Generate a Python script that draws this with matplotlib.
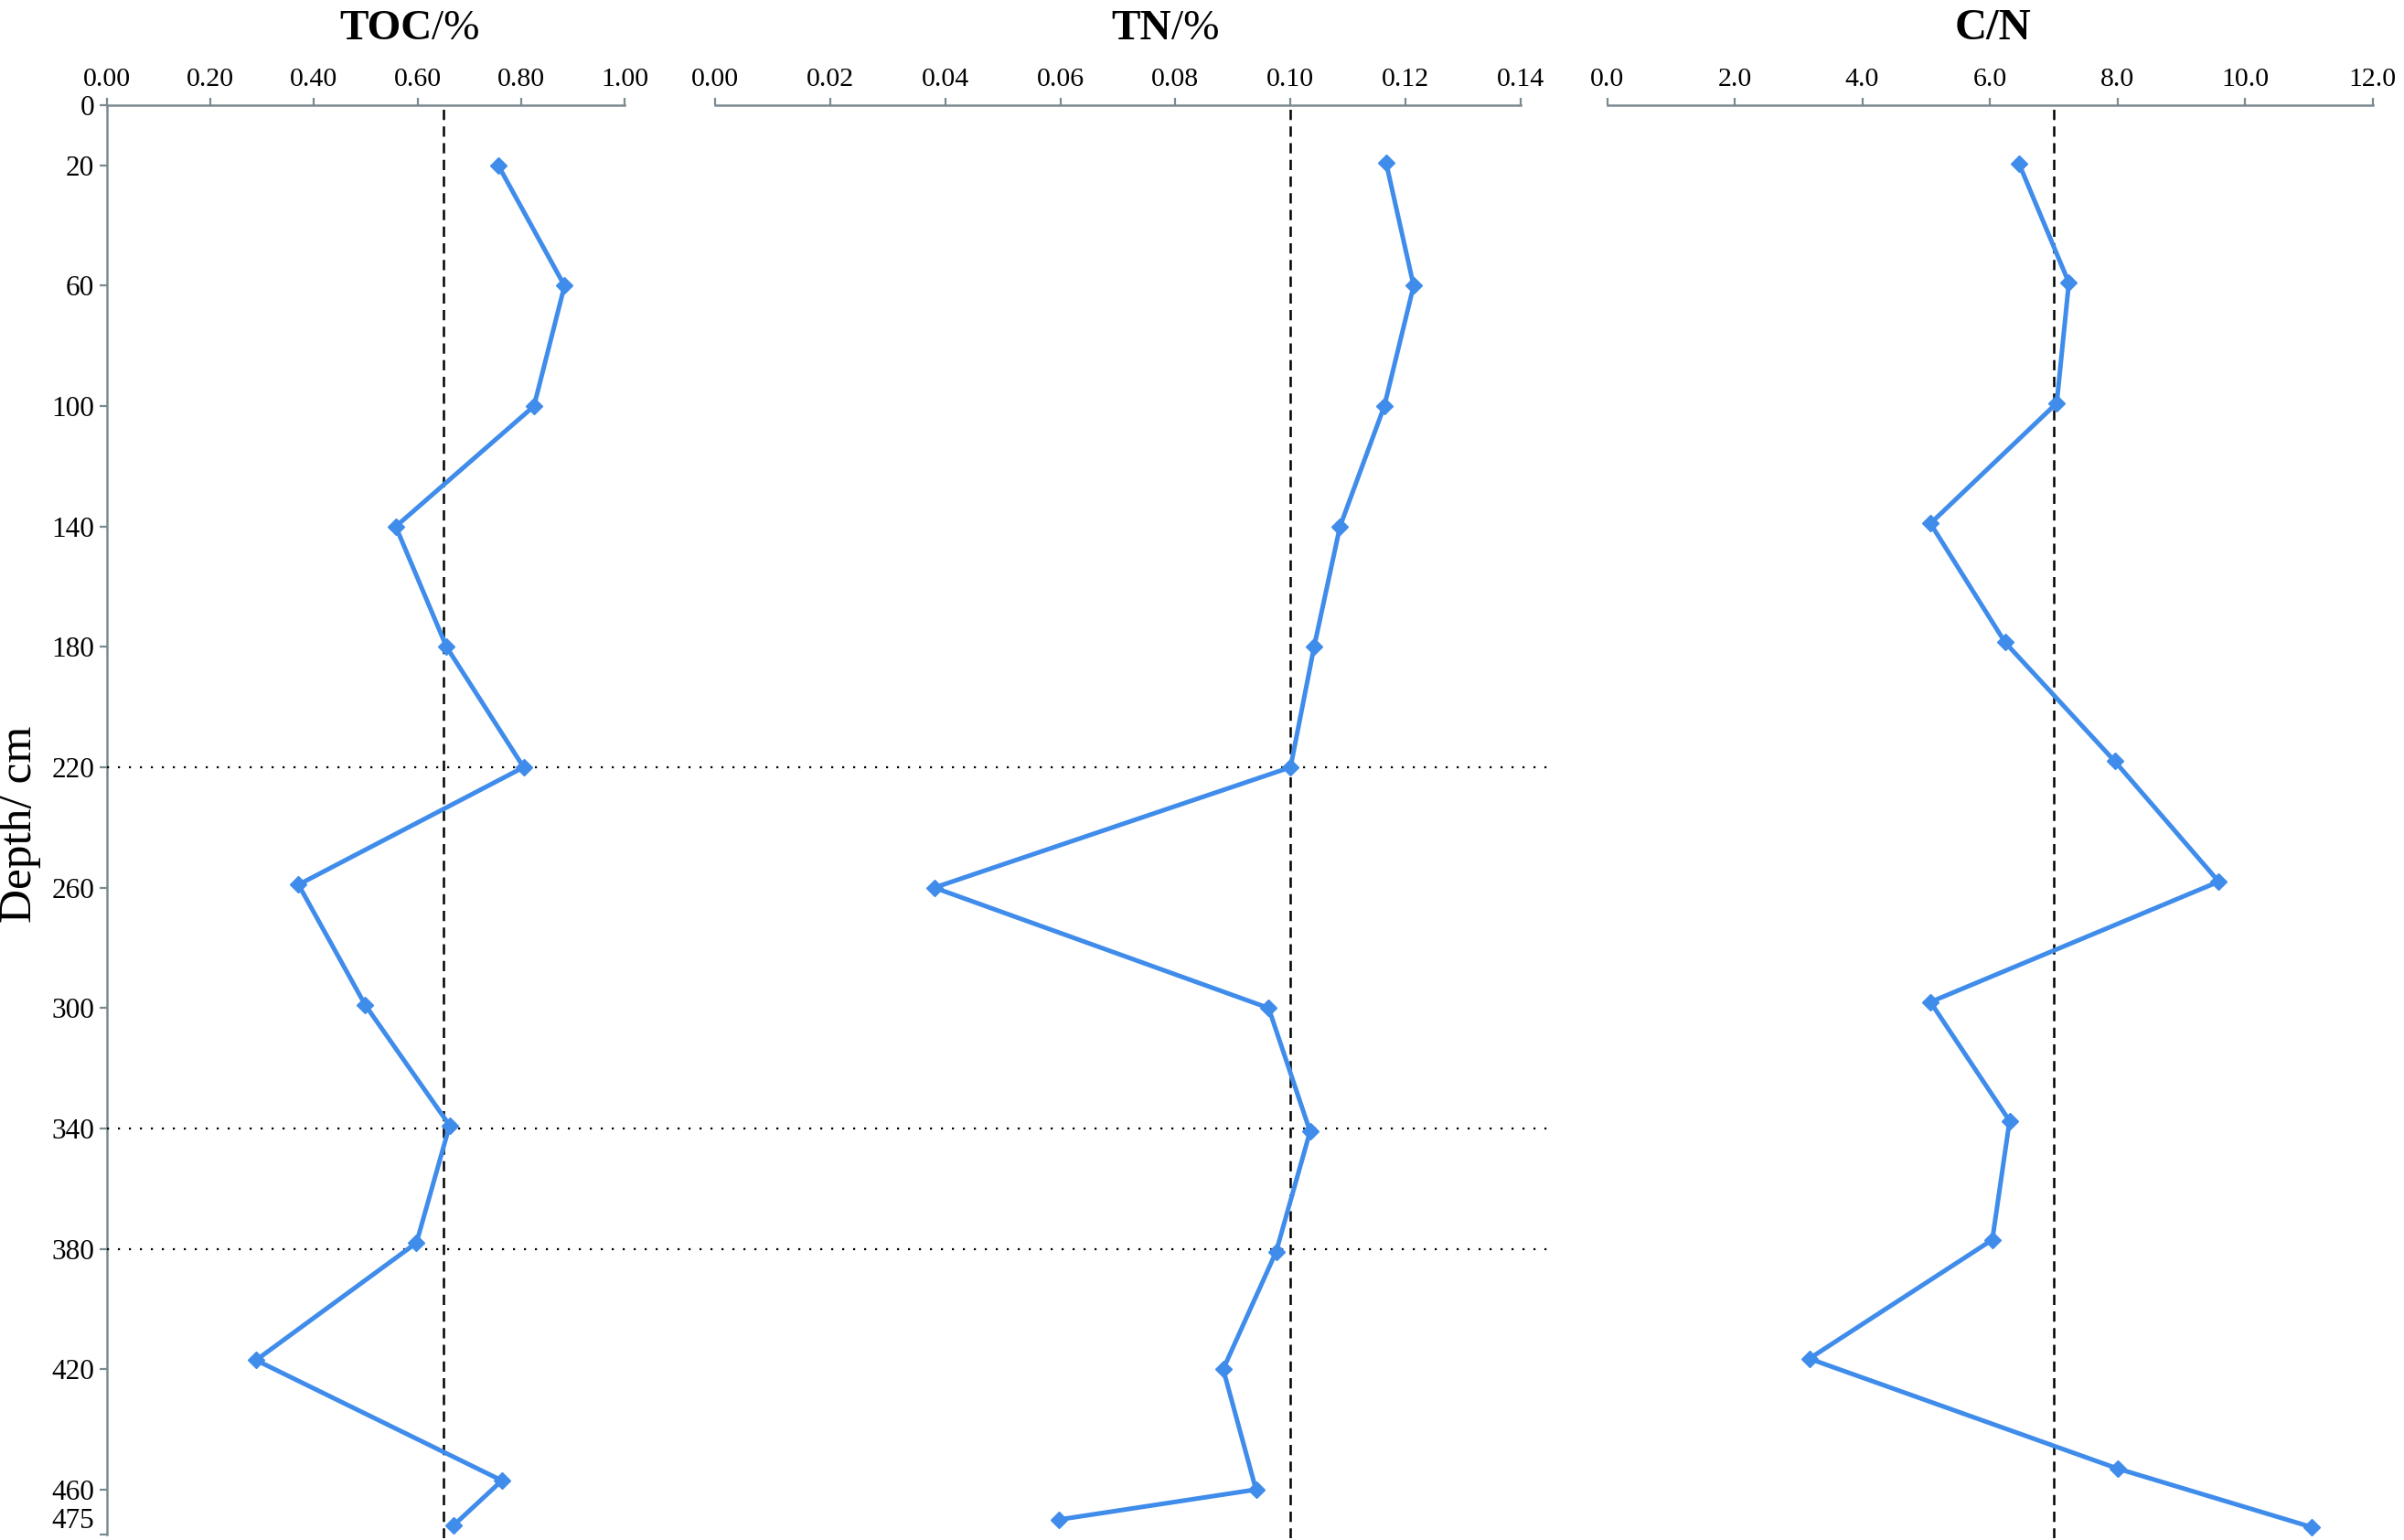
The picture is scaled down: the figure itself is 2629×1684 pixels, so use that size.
import matplotlib
matplotlib.use("Agg")
import matplotlib.pyplot as plt
from matplotlib.transforms import blended_transform_factory

# ---------------- data ----------------
depth_toc = [20, 60, 100, 140, 180, 220, 259, 299, 339, 378, 417, 457, 472]
toc = [0.756, 0.884, 0.825, 0.558, 0.656, 0.805, 0.370, 0.499, 0.662, 0.598, 0.288, 0.763, 0.669]

depth_tn = [19, 60, 100, 140, 180, 220, 260, 300, 341, 381, 420, 460, 470]
tn = [0.1166, 0.1214, 0.1163, 0.1086, 0.1041, 0.1000, 0.0381, 0.0962, 0.1034, 0.0975, 0.0883, 0.0940, 0.0597]

depth_cn = [19.5, 59, 99, 139, 178.5, 218, 258, 298, 337.5, 377, 416.5, 453, 472.5]
cn = [6.46, 7.24, 7.05, 5.07, 6.24, 7.96, 9.59, 5.07, 6.31, 6.04, 3.17, 8.00, 11.05]

ref_toc = 0.65
ref_tn = 0.10
ref_cn = 7.0
boundary_depths = [220, 340, 380]

depth_ticks = [0, 20, 60, 100, 140, 180, 220, 260, 300, 340, 380, 420, 460, 475]
toc_ticks = [0.0, 0.2, 0.4, 0.6, 0.8, 1.0]
tn_ticks = [0.0, 0.02, 0.04, 0.06, 0.08, 0.10, 0.12, 0.14]
cn_ticks = [0.0, 2.0, 4.0, 6.0, 8.0, 10.0, 12.0]

# ---------------- style ----------------
plt.rcParams['font.family'] = ['Liberation Serif', 'DejaVu Serif']
LINE = '#3F8CEB'
SPINE = '#7a8a90'

W, H = 2629, 1684
fig = plt.figure(figsize=(W / 100, H / 100), dpi=100)

top_px = 115.0
px_per_unit = 3.291
ymax = 476
bottom_px = top_px + ymax * px_per_unit
ay = 1 - bottom_px / H
ah = (bottom_px - top_px) / H

def rect(x0, x1):
    return [x0 / W, ay, (x1 - x0) / W, ah]

ax1 = fig.add_axes(rect(117, 683))
ax2 = fig.add_axes(rect(782, 1663))
ax3 = fig.add_axes(rect(1757.5, 2594.5))

panels = [
    (ax1, toc, depth_toc, ref_toc, (0, 1.0), toc_ticks, '%.2f'),
    (ax2, tn, depth_tn, ref_tn, (0, 0.14), tn_ticks, '%.2f'),
    (ax3, cn, depth_cn, ref_cn, (0, 12.0), cn_ticks, '%.1f'),
]

for ax, vals, dep, ref, xl, xt, fmt in panels:
    ax.set_xlim(*xl)
    ax.set_ylim(ymax, 0)
    for s in ['bottom', 'right', 'left']:
        ax.spines[s].set_visible(False)
    ax.spines['top'].set_color(SPINE)
    ax.spines['top'].set_linewidth(1.8)
    ax.xaxis.tick_top()
    ax.set_xticks(xt)
    ax.set_xticklabels([fmt % v for v in xt])
    ax.tick_params(axis='x', direction='out', length=6, width=1.6, color=SPINE,
                   pad=5, labelsize=21.5)
    ax.set_yticks([])
    ax.patch.set_alpha(0)
    ax.axvline(ref, color='black', lw=1.8, dashes=(4.5, 2.8), zorder=2)
    ax.plot(vals, dep, color=LINE, lw=3.6, marker='D', markersize=9.5,
            markerfacecolor=LINE, markeredgecolor=LINE, zorder=4, clip_on=False)

# left depth axis
ax1.spines['left'].set_visible(True)
ax1.spines['left'].set_color(SPINE)
ax1.spines['left'].set_linewidth(1.8)
ax1.spines['left'].set_bounds(0, 475)
ax1.set_yticks(depth_ticks)
ax1.set_yticklabels([str(v) for v in depth_ticks])
ax1.tick_params(axis='y', direction='out', length=6, width=1.6, color=SPINE,
                pad=4, labelsize=22.5)
ax1.get_yticklabels()[-1].set_va('bottom')

# dotted boundary lines spanning TOC and TN panels
tr = blended_transform_factory(fig.transFigure, ax1.transData)
for d in boundary_depths:
    ax1.plot([117 / W, 1694 / W], [d, d], transform=tr, color='black',
             lw=1.6, dashes=(1, 4.4), clip_on=False, zorder=3)

# titles
base_y = 1 - 43 / H
t1 = fig.text(371 / W, base_y, 'TOC', fontsize=34, fontweight='bold',
              ha='left', va='baseline')
ax1.annotate('/%', xy=(1, 0), xycoords=t1, ha='left', va='bottom',
             fontsize=34, annotation_clip=False)
t2 = fig.text(1215 / W, base_y, 'TN', fontsize=34, fontweight='bold',
              ha='left', va='baseline')
ax2.annotate('/%', xy=(1, 0), xycoords=t2, ha='left', va='bottom',
             fontsize=34, annotation_clip=False)
fig.text(2180 / W, base_y, 'C/N', fontsize=35, fontweight='bold',
         ha='center', va='baseline')

# y label
fig.text(22 / W, 1 - 901 / H, 'Depth/ cm', rotation=90, fontsize=37,
         ha='center', va='center')

fig.savefig('out.png', dpi=100)
